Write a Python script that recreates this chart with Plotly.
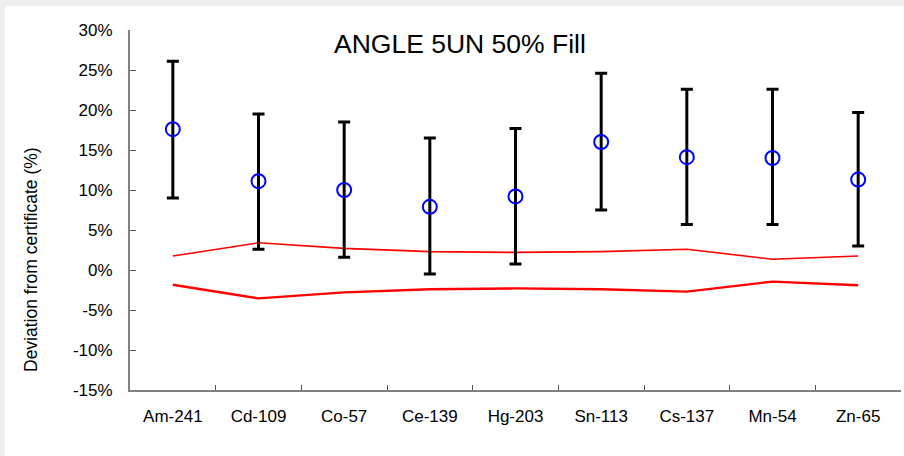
import plotly.graph_objects as go

categories = ["Am-241", "Cd-109", "Co-57", "Ce-139", "Hg-203", "Sn-113", "Cs-137", "Mn-54", "Zn-65"]
deviation = [17.6, 11.1, 10.0, 7.9, 9.2, 16.0, 14.1, 14.0, 11.3]
err_top = [26.1, 19.5, 18.5, 16.5, 17.7, 24.6, 22.6, 22.6, 19.7]
err_bottom = [9.0, 2.6, 1.6, -0.5, 0.75, 7.5, 5.7, 5.7, 3.0]
upper_limit = [1.75, 3.4, 2.7, 2.3, 2.2, 2.3, 2.6, 1.35, 1.75]
lower_limit = [-1.85, -3.55, -2.8, -2.4, -2.3, -2.4, -2.7, -1.45, -1.9]
y_ticks = [-15, -10, -5, 0, 5, 10, 15, 20, 25, 30]
y_tick_labels = [f"{v}%" for v in y_ticks]

plus = [t - d for t, d in zip(err_top, deviation)]
minus = [d - b for d, b in zip(deviation, err_bottom)]

FONT = "Liberation Sans, Arial, sans-serif"

fig = go.Figure()
fig.add_trace(go.Scatter(
    x=categories, y=upper_limit, mode="lines",
    line=dict(color="#ff0000", width=1.6), showlegend=False, hoverinfo="skip"))
fig.add_trace(go.Scatter(
    x=categories, y=lower_limit, mode="lines",
    line=dict(color="#ff0000", width=2.4), showlegend=False, hoverinfo="skip"))
fig.add_trace(go.Scatter(
    x=categories, y=deviation, mode="markers",
    marker=dict(symbol="circle-open", size=14, color="#0000ff", line=dict(width=2, color="#0000ff")),
    error_y=dict(type="data", symmetric=False, array=plus, arrayminus=minus,
                 color="black", thickness=3, width=6),
    showlegend=False))

fig.update_layout(
    width=904, height=456,
    margin=dict(l=130, r=3, t=30, b=66),
    paper_bgcolor="white", plot_bgcolor="white",
    font=dict(family=FONT, size=16, color="black"),
    annotations=[
        dict(text="ANGLE 5UN 50% Fill", xref="paper", yref="paper",
             x=(460 - 130) / 771, y=(390 - 44) / 360, xanchor="center", yanchor="middle",
             showarrow=False, font=dict(size=26.5, family=FONT, color="black")),
        dict(text="Deviation from certificate (%)", xref="paper", yref="paper",
             x=(31 - 130) / 771, y=(390 - 260) / 360, xanchor="center", yanchor="middle",
             textangle=-90, showarrow=False, font=dict(size=17.5, family=FONT, color="black")),
    ],
    shapes=[
        dict(type="rect", xref="paper", yref="paper", x0=-130 / 771, x1=(904 - 130) / 771,
             y0=(390 - 6) / 360, y1=390 / 360, fillcolor="#eeeeee", line=dict(width=0), layer="below"),
        dict(type="rect", xref="paper", yref="paper", x0=-130 / 771, x1=-125 / 771,
             y0=(390 - 456) / 360, y1=390 / 360, fillcolor="#eeeeee", line=dict(width=0), layer="below"),
    ],
)
fig.update_xaxes(
    type="category", range=[-0.5, 8.5], tickson="boundaries",
    ticks="inside", ticklen=5, tickwidth=1, tickcolor="#555555",
    showline=True, linecolor="#808080", linewidth=2,
    showgrid=False, zeroline=False, ticklabelstandoff=10,
    tickfont=dict(size=17, family=FONT, color="black"))
fig.update_yaxes(
    range=[-15, 30], tickvals=y_ticks, ticktext=y_tick_labels,
    ticks="inside", ticklen=6, tickwidth=1, tickcolor="#555555",
    showline=True, linecolor="#808080", linewidth=2,
    showgrid=False, zeroline=False, ticklabelstandoff=12,
    tickfont=dict(size=17, family=FONT, color="black"))

fig.write_html("out.html")
